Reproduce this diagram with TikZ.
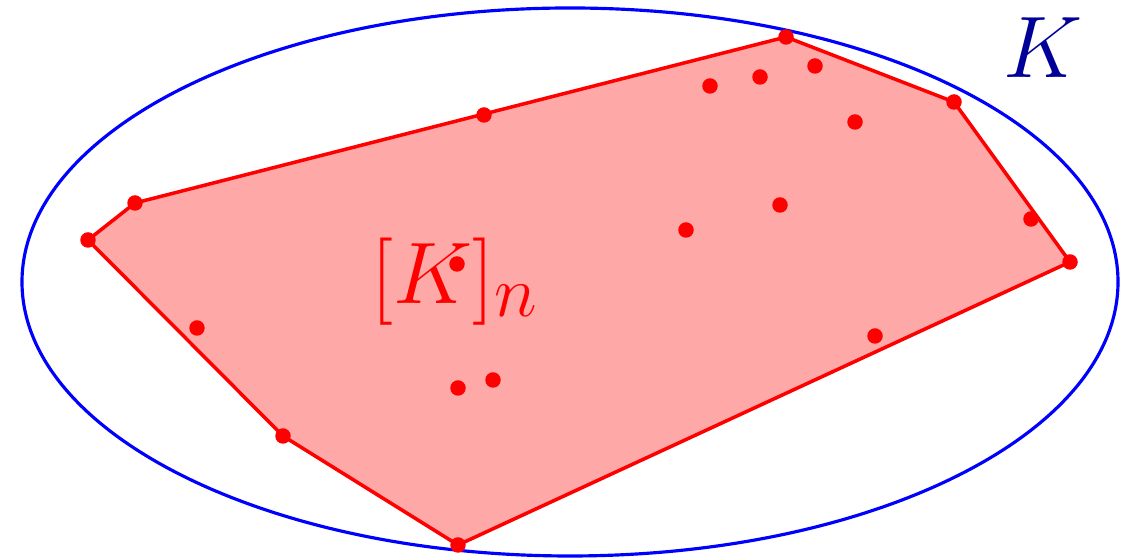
\documentclass[tikz,border=0pt]{standalone}
\usepackage{tkz-euclide}
\definecolor{HullClr}{rgb}{1,0,0}
\definecolor{HullFill}{rgb}{1,0.66,0.66}
\definecolor{BodyClr}{rgb}{0,0,1}
\definecolor{LabelClr}{rgb}{0,0,0.6}

\begin{document}
\begin{tikzpicture}
\useasboundingbox (0,0) rectangle (11.43,5.58);
\tkzSetUpLine[line width=1pt,color=HullClr]
\tkzSetUpPoint[fill=HullClr,color=HullClr]

\tkzDefPoint(5.70,2.76){O}

\tkzDefPoints{0.88/3.18/A,1.35/3.55/B,7.86/5.21/C,9.54/4.56/D,10.70/2.96/E,4.58/0.13/F,2.83/1.22/G}

\tkzDefPoints{4.84/4.43/P1,10.31/3.39/P2,1.97/2.30/P3,8.75/2.22/P4,7.10/4.72/P5,7.60/4.81/P6,8.15/4.92/P7}
\tkzDefPoints{8.55/4.36/P8,6.86/3.28/P9,7.80/3.53/P10,4.57/2.94/P11,4.58/1.70/P12,4.93/1.78/P13}

\draw[BodyClr,line width=0.9pt] (O) ellipse (5.48 and 2.74);

\tkzFillPolygon[fill=HullFill](A,B,C,D,E,F,G)
\tkzDrawPolygon(A,B,C,D,E,F,G)

\node[text=HullClr,font=\Huge] (hull) at (4.55,2.76) {$[K]_n$};
\node[text=LabelClr,font=\Huge] (body) at (10.43,5.10) {$K$};

\tkzDrawPoints[size=4](A,B,C,D,E,F,G)
\tkzDrawPoints[size=4](P1,P2,P3,P4,P5,P6,P7,P8,P9,P10,P11,P12,P13)

\end{tikzpicture}
\end{document}
